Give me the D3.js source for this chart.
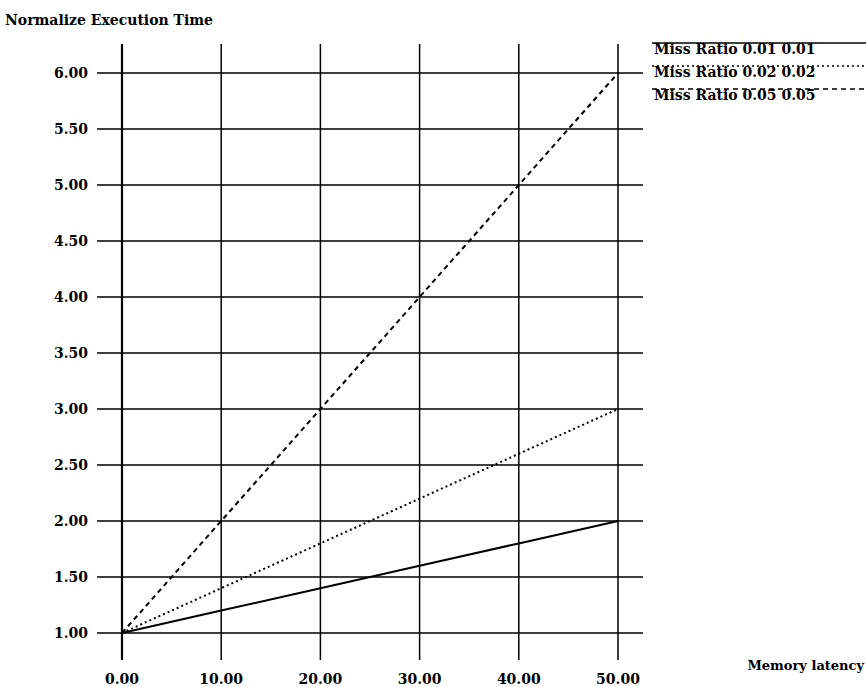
<!DOCTYPE html>
<html>
<head>
<meta charset="utf-8">
<script src="https://cdn.jsdelivr.net/npm/d3@7"></script>
<style>
  body { margin: 0; background: #fff; }
  text { font-family: "DejaVu Serif", "Liberation Serif", serif; fill: #000; }
</style>
</head>
<body>
<svg id="chart" width="866" height="687"></svg>
<script>
// chart values
var latency = [0, 10, 20, 30, 40, 50];
var ratio001 = [1.0, 1.2, 1.4, 1.6, 1.8, 2.0];
var ratio002 = [1.0, 1.4, 1.8, 2.2, 2.6, 3.0];
var ratio005 = [1.0, 2.0, 3.0, 4.0, 5.0, 6.0];
var seriesNames = ["Miss Ratio 0.01 0.01", "Miss Ratio 0.02 0.02", "Miss Ratio 0.05 0.05"];
var yTicks = [1.0, 1.5, 2.0, 2.5, 3.0, 3.5, 4.0, 4.5, 5.0, 5.5, 6.0];
var xTicks = [0, 10, 20, 30, 40, 50];

var svg = d3.select("#chart");

var x = d3.scaleLinear().domain([0, 50]).range([122, 618]);
var y = d3.scaleLinear().domain([1, 6]).range([633, 73]);

// horizontal grid, sticks out left as a tick and past the last column
svg.append("g").selectAll("line")
  .data(yTicks).enter().append("line")
  .attr("x1", 97).attr("x2", 643)
  .attr("y1", function(d) { return y(d); })
  .attr("y2", function(d) { return y(d); })
  .attr("stroke", "#000").attr("stroke-width", 1.5);

// vertical grid
svg.append("g").selectAll("line")
  .data(xTicks).enter().append("line")
  .attr("y1", 44).attr("y2", 660)
  .attr("x1", function(d) { return x(d); })
  .attr("x2", function(d) { return x(d); })
  .attr("stroke", "#000")
  .attr("stroke-width", function(d) { return d === 0 ? 2.2 : 1.5; });

// tick labels
svg.append("g").selectAll("text")
  .data(yTicks).enter().append("text")
  .attr("x", 88)
  .attr("y", function(d) { return y(d) + 5; })
  .attr("text-anchor", "end")
  .attr("font-size", 14).attr("font-weight", "bold")
  .text(function(d) { return d3.format(".2f")(d); });

svg.append("g").selectAll("text")
  .data(xTicks).enter().append("text")
  .attr("x", function(d) { return x(d); })
  .attr("y", 684)
  .attr("text-anchor", "middle")
  .attr("font-size", 14).attr("font-weight", "bold")
  .text(function(d) { return d3.format(".2f")(d); });

// axis titles
svg.append("text").attr("x", 5).attr("y", 25)
  .attr("font-size", 14).attr("font-weight", "bold")
  .text("Normalize Execution Time");
svg.append("text").attr("x", 864).attr("y", 670)
  .attr("text-anchor", "end")
  .attr("font-size", 13).attr("font-weight", "bold")
  .text("Memory latency");

// the three lines
var dashes = ["none", "2,3", "5,4"];
var series = [ratio001, ratio002, ratio005];

var line = d3.line()
  .x(function(d, i) { return x(latency[i]); })
  .y(function(d) { return y(d); });

svg.append("g").selectAll("path")
  .data(series).enter().append("path")
  .attr("d", line)
  .attr("fill", "none")
  .attr("stroke", "#000")
  .attr("stroke-width", 2)
  .attr("stroke-dasharray", function(d, i) { return dashes[i]; });

// legend at the right edge
var legend = svg.append("g").selectAll("g")
  .data(seriesNames).enter().append("g");

legend.append("line")
  .attr("x1", 652).attr("x2", 866)
  .attr("y1", function(d, i) { return 43 + i * 23; })
  .attr("y2", function(d, i) { return 43 + i * 23; })
  .attr("stroke", "#000").attr("stroke-width", 1.5)
  .attr("stroke-dasharray", function(d, i) { return dashes[i]; });

legend.append("text")
  .attr("x", 654)
  .attr("y", function(d, i) { return 54 + i * 23; })
  .attr("font-size", 14).attr("font-weight", "bold")
  .text(function(d) { return d; });
</script>
</body>
</html>
